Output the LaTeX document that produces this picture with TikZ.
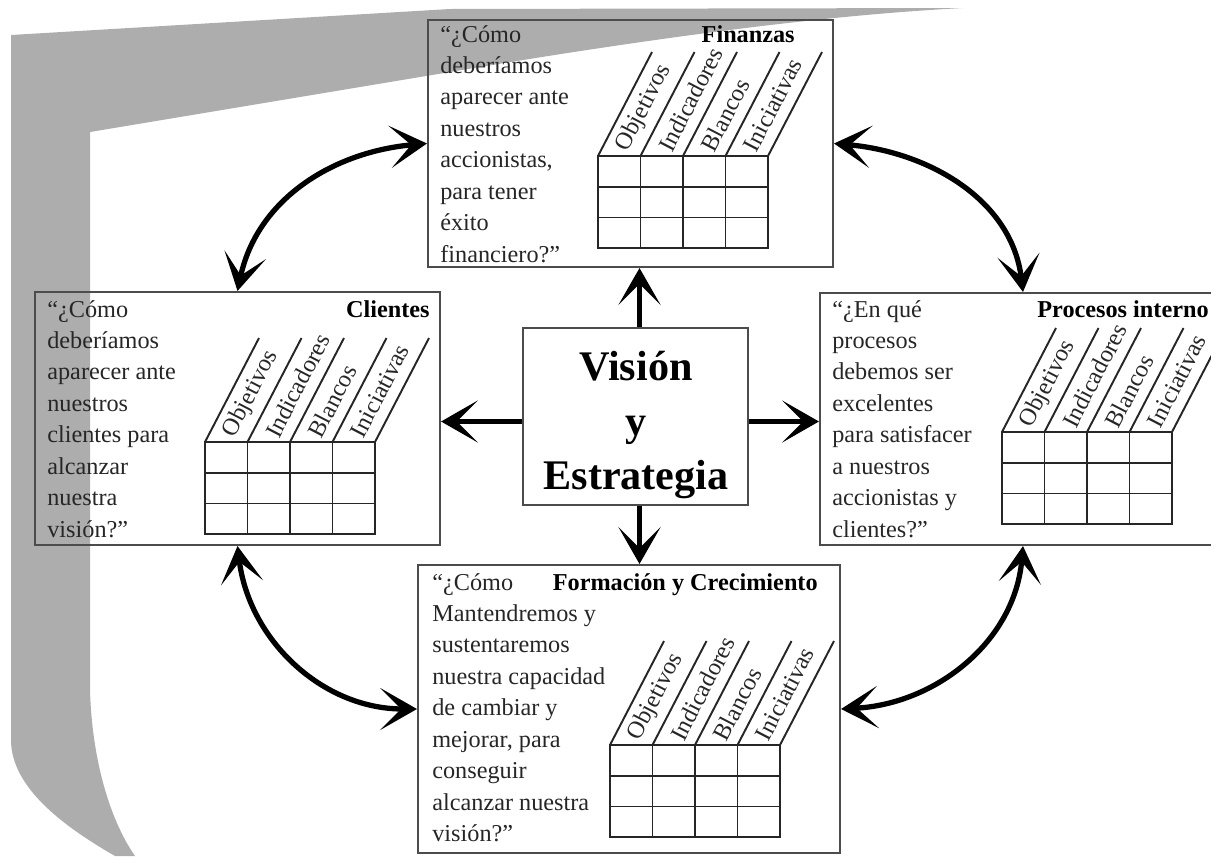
\documentclass[tikz,border=0pt]{standalone}
\usepackage{fontspec}
\setmainfont{Liberation Serif}
\usetikzlibrary{arrows.meta,fit,calc}
\newcommand\qfont{\fontsize{13.8pt}{17.9pt}\selectfont}
\newcommand\vfont{\fontsize{24pt}{31pt}\selectfont\bfseries}
% one line of a question block; the block is a \vtop so its baseline is the first line
\newcommand\qline[1]{\hbox{#1}}

\begin{document}
\begin{tikzpicture}[x=0.02cm, y=-0.02cm,
  band/.style={fill=black!32},
  panel/.style={draw=black!70, line width=1.2pt, inner sep=0pt},
  qtext/.style={anchor=base west, inner sep=0pt, font=\qfont, text=black!85},
  ttl/.style={anchor=base east, inner sep=0pt, font=\qfont\bfseries},
  colhead/.style={rotate=62.6, anchor=west, inner sep=0pt, font=\qfont, text=black!85},
  gridline/.style={draw=black!85, line width=1.1pt},
  arr/.style={line width=3pt, -{Stealth[length=21pt, width=24pt, inset=12pt]}},
  dbl/.style={line width=3pt, {Stealth[length=21pt, width=24pt, inset=12pt]}-{Stealth[length=21pt, width=24pt, inset=12pt]}},
  bsc grid/.pic={
    \draw[gridline] (0,0) rectangle (170,92);
    \foreach \c in {42.5,85,127.5} \draw[gridline] (\c,0) -- (\c,92);
    \foreach \r in {31,61.5} \draw[gridline] (0,\r) -- (170,\r);
    \foreach \c in {0,42.5,85,127.5,170} \draw[gridline] (\c,0) -- ++(54,-104);
    \foreach \lab [count=\i from 0] in {Objetivos,Indicadores,Blancos,Iniciativas}
      \node[colhead] (-h\i) at (42.5*\i+24,-6) {\lab};
  }]
\path[use as bounding box] (0,0) rectangle (1211,856);
\clip (0,0) rectangle (1211,856);

% grey bracket in the background
\fill[band] (11,35) -- (450,9) -- (963,8)
  .. controls (850,14) and (700,30) .. (450,72)
  -- (90,132) -- (90,690)
  .. controls (92,760) and (110,820) .. (135,856)
  -- (115,856)
  .. controls (70,830) and (11,790) .. (11,740) -- cycle;

% the five panels
\node[panel, fit={(428,20) (833,267)}] (fin) {};
\node[panel, fit={(35,292) (440,545)}] (cli) {};
\node[panel, fit={(820,293) (1226,545)}] (pro) {};
\node[panel, fit={(418,565) (840,853)}] (for) {};
\node[panel, fit={(523,328) (748,505)}] (vis) {};
\node[font=\vfont, align=center, inner sep=0pt] (vist) at (636,425) {Visión\\y\\Estrategia};

% Finanzas
\node[qtext] (finq) at (440,42) {\vtop{\qline{“¿Cómo}\qline{deberíamos}\qline{aparecer ante}\qline{nuestros}\qline{accionistas,}\qline{para tener}\qline{éxito}\qline{financiero?”}}};
\node[ttl] (fint) at (795,42) {Finanzas};
\pic (fing) at (598,156) {bsc grid};

% Clientes
\node[qtext] (cliq) at (47,317) {\vtop{\qline{“¿Cómo}\qline{deberíamos}\qline{aparecer ante}\qline{nuestros}\qline{clientes para}\qline{alcanzar}\qline{nuestra}\qline{visión?”}}};
\node[ttl] (clit) at (430,317) {Clientes};
\pic (clig) at (205,442) {bsc grid};

% Procesos internos
\node[qtext] (proq) at (832,317) {\vtop{\qline{“¿En qué}\qline{procesos}\qline{debemos ser}\qline{excelentes}\qline{para satisfacer}\qline{a nuestros}\qline{accionistas y}\qline{clientes?”}}};
\node[ttl] (prot) at (1209,317) {Procesos interno};
\pic (prog) at (1002,432) {bsc grid};

% Formacion y Crecimiento
\node[qtext] (forq) at (432,590) {\vtop{\qline{“¿Cómo}\qline{Mantendremos y}\qline{sustentaremos}\qline{nuestra capacidad}\qline{de cambiar y}\qline{mejorar, para}\qline{conseguir}\qline{alcanzar nuestra}\qline{visión?”}}};
\node[ttl] (fort) at (818,590) {Formación y Crecimiento};
\pic (forg) at (610,745) {bsc grid};

% arrows out of the centre box
\coordinate (vn) at ([xshift=0.08cm]vis.north);
\coordinate (vs) at ([xshift=0.08cm]vis.south);
\coordinate (vw) at ([yshift=-0.1cm]vis.west);
\coordinate (ve) at ([yshift=-0.1cm]vis.east);
\draw[arr] (vn) -- (vn |- fin.south);
\draw[arr] (vs) -- (vs |- for.north);
\draw[arr] (vw) -- (vw -| cli.east);
\draw[arr] (ve) -- (ve -| pro.west);

% curved links between neighbouring perspectives
\draw[dbl] (cli.north) to[out=78, in=185] (fin.west);
\draw[dbl] (fin.east) to[out=-5, in=97] (pro.north);
\draw[dbl] (cli.south) to[out=-83, in=180] (for.west);
\draw[dbl] (pro.south) to[out=-95, in=3] (for.east);
\end{tikzpicture}
\end{document}
